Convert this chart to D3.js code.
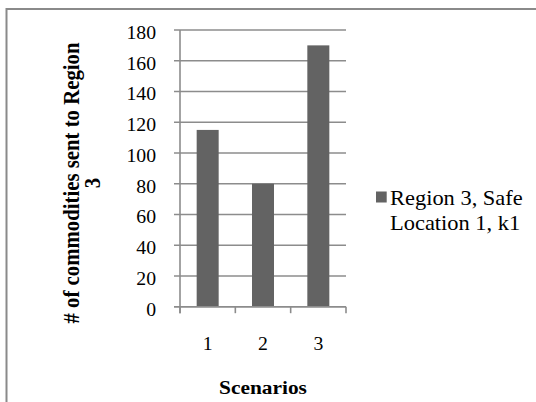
<!DOCTYPE html>
<html><head><meta charset="utf-8">
<script src="https://cdn.jsdelivr.net/npm/d3@7"></script>
<style>
html,body{margin:0;padding:0;background:#fff;}
svg{display:block;}
text{font-family:'Liberation Serif','Times New Roman',Times,serif;}
</style></head>
<body>
<script>
const categories = ["1","2","3"];
const values = [115, 80, 170];
const yTicks = [0,20,40,60,80,100,120,140,160,180];
const seriesName = ["Region 3, Safe", "Location 1, k1"];
const yTitle = ["# of commodities sent to Region", "3"];
const xTitle = "Scenarios";

const W = 536, H = 402;
const SX = 1.08; // slight horizontal stretch seen in the reference text
const FONT = "Liberation Serif, Times New Roman, serif";
const svg = d3.select("body").append("svg").attr("width", W).attr("height", H)
  .attr("font-family", FONT);

svg.append("rect").attr("x",6.5).attr("y",9).attr("width",W).attr("height",H)
  .attr("fill","#fff").attr("stroke","#8a8a8a").attr("stroke-width",2);

const plot = {l:180, r:346, t:30, b:306.7};
const xOuter = d3.scaleBand().domain(categories).range([plot.l, plot.r]);
const y = d3.scaleLinear().domain([0,180]).range([plot.b, plot.t]);

const gridColor = "#8c8c8c";
svg.append("g").selectAll("line").data(yTicks).join("line")
  .attr("x1", plot.l-6).attr("x2", plot.r)
  .attr("y1", d=>y(d)).attr("y2", d=>y(d))
  .attr("stroke", gridColor).attr("stroke-width", 1.6);

svg.append("g").selectAll("rect").data(values).join("rect")
  .attr("x",(d,i)=>xOuter(categories[i]) + xOuter.bandwidth()/2 - 11)
  .attr("width",22)
  .attr("y",d=>y(d)).attr("height",d=>y(0)-y(d))
  .attr("fill","#636363");

svg.append("line").attr("x1",plot.l).attr("x2",plot.l).attr("y1",plot.t).attr("y2",plot.b+6.5)
  .attr("stroke",gridColor).attr("stroke-width",1.6);
svg.append("line").attr("x1",plot.l-6).attr("x2",plot.r).attr("y1",plot.b).attr("y2",plot.b)
  .attr("stroke",gridColor).attr("stroke-width",1.6);
const bounds = categories.map(c=>xOuter(c)).concat([plot.r]);
svg.append("g").selectAll("line").data(bounds).join("line")
  .attr("x1",d=>d).attr("x2",d=>d).attr("y1",plot.b).attr("y2",plot.b+6.5)
  .attr("stroke",gridColor).attr("stroke-width",1.6);

// y tick labels
svg.append("g").selectAll("text").data(yTicks).join("text")
  .attr("transform", d=>`translate(${plot.l-24},${y(d)+9}) scale(${SX},1)`)
  .attr("text-anchor","end").attr("font-size",18.3).attr("fill","#000")
  .attr("font-family", FONT)
  .text(d=>d);

// x tick labels
svg.append("g").selectAll("text").data(categories).join("text")
  .attr("transform", d=>`translate(${xOuter(d)+xOuter.bandwidth()/2},350) scale(${SX},1)`)
  .attr("text-anchor","middle").attr("font-size",18.3).attr("fill","#000")
  .attr("font-family", FONT)
  .text(d=>d);

// x title
svg.append("text").attr("transform",`translate(${(plot.l+plot.r)/2},394) scale(${SX},1)`)
  .attr("text-anchor","middle").attr("font-size",19.8).attr("font-weight","bold")
  .attr("font-family", FONT)
  .text(xTitle);

// y title
const yt = svg.append("text").attr("transform",`translate(0,183) rotate(-90) scale(1,${SX})`)
  .attr("text-anchor","middle").attr("font-size",20.8).attr("font-weight","bold")
  .attr("font-family", FONT);
yt.append("tspan").attr("x",0).attr("y",79/SX).text(yTitle[0]);
yt.append("tspan").attr("x",0).attr("y",100/SX).text(yTitle[1]);

// legend
svg.append("rect").attr("x",376).attr("y",191.5).attr("width",10.7).attr("height",11).attr("fill","#636363");
const lt = svg.append("g");
seriesName.forEach((s,i)=>{
  lt.append("text").attr("transform",`translate(390,${205+i*24.5}) scale(${SX},1)`)
    .attr("font-size",20.8).attr("fill","#000").attr("font-family", FONT).text(s);
});
</script>
</body></html>
